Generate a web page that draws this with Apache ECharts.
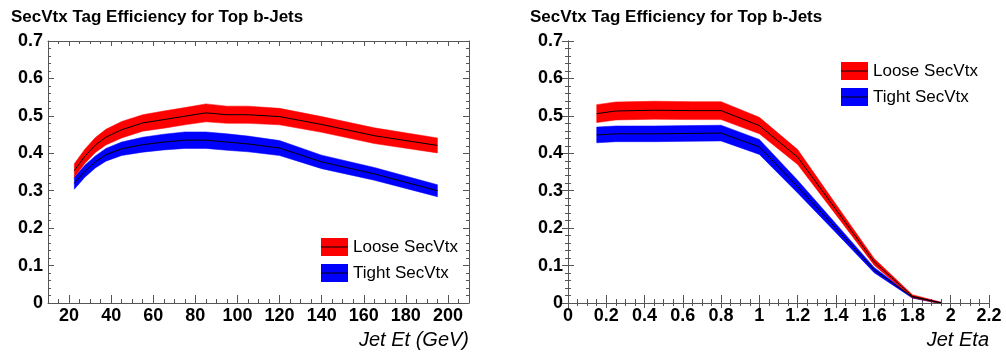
<!DOCTYPE html>
<html>
<head>
<meta charset="utf-8">
<script src="https://cdn.jsdelivr.net/npm/echarts@6/dist/echarts.min.js"></script>
<style>
html,body{margin:0;padding:0;background:#fff;}
#main{width:1006px;height:352px;}
</style>
</head>
<body>
<div id="main"></div>
<script>
// ---- data ----
const etX = [22.5, 27.5, 32.5, 37.5, 45, 55, 65, 75, 85, 95, 105, 120, 140, 165, 195];
const etLoose = [0.354, 0.392, 0.422, 0.443, 0.463, 0.481, 0.490, 0.499, 0.508, 0.503, 0.503, 0.498, 0.477, 0.447, 0.421];
const etLooseErr = [0.018, 0.019, 0.020, 0.021, 0.022, 0.022, 0.023, 0.023, 0.024, 0.023, 0.023, 0.022, 0.021, 0.021, 0.020];
const etTight = [0.320, 0.352, 0.377, 0.396, 0.412, 0.423, 0.430, 0.435, 0.435, 0.430, 0.425, 0.414, 0.377, 0.345, 0.300];
const etTightErr = [0.016, 0.016, 0.016, 0.017, 0.018, 0.020, 0.021, 0.022, 0.022, 0.022, 0.021, 0.020, 0.018, 0.017, 0.016];

const etaX = [0.15, 0.25, 0.45, 0.65, 0.8, 1.0, 1.2, 1.4, 1.6, 1.8, 1.95];
const etaLoose = [0.506, 0.513, 0.515, 0.514, 0.514, 0.474, 0.390, 0.250, 0.110, 0.018, 0.0];
const etaLooseErr = [0.024, 0.024, 0.024, 0.024, 0.024, 0.022, 0.020, 0.014, 0.009, 0.004, 0.002];
const etaTight = [0.449, 0.452, 0.452, 0.453, 0.454, 0.417, 0.311, 0.200, 0.088, 0.016, 0.0];
const etaTightErr = [0.021, 0.021, 0.021, 0.021, 0.021, 0.020, 0.017, 0.012, 0.007, 0.003, 0.002];

const etLabels = [20, 40, 60, 80, 100, 120, 140, 160, 180, 200];
const titleText = 'SecVtx Tag Efficiency for Top b-Jets';
const seriesNames = ['Loose SecVtx', 'Tight SecVtx'];
const colors = ['#ff0000', '#0000ff'];

// ---- build ----
const FONT = 'Liberation Sans, Arial, Helvetica, sans-serif';
const frameColor = '#555555';
const chart = echarts.init(document.getElementById('main'), null, {renderer: 'canvas'});

function bandSeries(xs, vals, errs, name, color, xi, yi) {
  const center = xs.map((x, i) => [x, vals[i]]);
  return [
    {type: 'custom', name: name, xAxisIndex: xi, yAxisIndex: yi, color: color,
     itemStyle: {color: color}, clip: true, silent: true, z: 2,
     data: center, encode: {x: 0, y: 1},
     renderItem: function (params, api) {
       if (params.dataIndex !== 0) return null;
       const pts = [];
       for (let i = 0; i < xs.length; i++) pts.push(api.coord([xs[i], vals[i] + errs[i]]));
       for (let i = xs.length - 1; i >= 0; i--) pts.push(api.coord([xs[i], vals[i] - errs[i]]));
       return {type: 'polygon', shape: {points: pts}, style: {fill: color, stroke: color, lineWidth: 0.5}};
     }},
    {type: 'line', name: name + ' central', xAxisIndex: xi, yAxisIndex: yi,
     data: center, symbol: 'none', lineStyle: {width: 1, color: '#000'}, silent: true, z: 5}
  ];
}

const lblStyle = {fontFamily: FONT, fontWeight: 'bold', fontSize: 18, color: '#000'};
const lineSt = {color: frameColor, width: 1};

function xAxesEt(grid) {
  const base = {gridIndex: grid, type: 'value', min: 10, max: 210, interval: 5, splitLine: {show: false}};
  return [
    Object.assign({}, base, {position: 'bottom', axisLine: {show: true, lineStyle: lineSt},
      axisTick: {show: true, inside: true, length: 4, lineStyle: lineSt},
      axisLabel: Object.assign({show: true, margin: 4, customValues: etLabels}, lblStyle),
      name: 'Jet Et (GeV)', nameLocation: 'end', nameGap: 0,
      nameTextStyle: {fontFamily: FONT, fontStyle: 'italic', fontSize: 20, color: '#000', align: 'right', verticalAlign: 'top', padding: [27, 0, 0, 0]}}),
    Object.assign({}, base, {position: 'bottom', axisLine: {show: false},
      axisTick: {show: true, inside: true, length: 8, lineStyle: lineSt, customValues: etLabels},
      axisLabel: {show: false}}),
    Object.assign({}, base, {position: 'top', axisLine: {show: true, lineStyle: lineSt},
      axisTick: {show: true, inside: true, length: 3, lineStyle: lineSt}, axisLabel: {show: false}}),
    Object.assign({}, base, {position: 'top', axisLine: {show: false},
      axisTick: {show: true, inside: true, length: 5, lineStyle: lineSt, customValues: etLabels},
      axisLabel: {show: false}})
  ];
}
function xAxesEta(grid) {
  const base = {gridIndex: grid, type: 'value', min: 0, max: 2.2, interval: 0.2, splitLine: {show: false}};
  return [
    Object.assign({}, base, {position: 'bottom', axisLine: {show: true, lineStyle: lineSt},
      axisTick: {show: true, inside: true, length: 8, lineStyle: lineSt},
      minorTick: {show: true, splitNumber: 4, length: 4, lineStyle: lineSt},
      axisLabel: Object.assign({show: true, margin: 4, showMinLabel: true, showMaxLabel: true}, lblStyle),
      name: 'Jet Eta', nameLocation: 'end', nameGap: 0,
      nameTextStyle: {fontFamily: FONT, fontStyle: 'italic', fontSize: 20, color: '#000', align: 'right', verticalAlign: 'top', padding: [27, 0, 0, 0]}}),
    Object.assign({}, base, {position: 'top', axisLine: {show: true, lineStyle: lineSt},
      axisTick: {show: true, inside: true, length: 5, lineStyle: lineSt},
      minorTick: {show: true, splitNumber: 4, length: 3, lineStyle: lineSt},
      axisLabel: {show: false}})
  ];
}
function yAxes(grid) {
  const base = {gridIndex: grid, type: 'value', min: 0, max: 0.7, interval: 0.1, splitLine: {show: false}};
  return [
    Object.assign({}, base, {position: 'left', axisLine: {show: true, lineStyle: lineSt},
      axisTick: {show: true, inside: true, length: 6, lineStyle: lineSt},
      minorTick: {show: true, splitNumber: 5, length: 3, lineStyle: lineSt},
      axisLabel: Object.assign({show: true, margin: 5, formatter: v => String(+v.toFixed(1))}, lblStyle)}),
    Object.assign({}, base, {position: 'right', axisLine: {show: true, lineStyle: lineSt},
      axisTick: {show: true, inside: true, length: 6, lineStyle: lineSt},
      minorTick: {show: true, splitNumber: 5, length: 3, lineStyle: lineSt},
      axisLabel: {show: false}})
  ];
}

const xAxis = xAxesEt(0).concat(xAxesEta(1));   // 0..3 left, 4..5 right
const yAxis = yAxes(0).concat(yAxes(1));         // 0..1 left, 2..3 right

const series = []
  .concat(bandSeries(etX, etTight, etTightErr, seriesNames[1], colors[1], 0, 0))
  .concat(bandSeries(etX, etLoose, etLooseErr, seriesNames[0], colors[0], 0, 0))
  .concat(bandSeries(etaX, etaTight, etaTightErr, seriesNames[1], colors[1], 4, 2))
  .concat(bandSeries(etaX, etaLoose, etaLooseErr, seriesNames[0], colors[0], 4, 2));

function legendAt(left, top) {
  return {
    orient: 'vertical', left: left, top: top, padding: 0, itemGap: 8,
    itemWidth: 27, itemHeight: 18, icon: 'rect', selectedMode: false,
    data: seriesNames.map((n, i) => ({name: n, icon: 'rect', itemStyle: {color: colors[i], borderWidth: 0}})),
    textStyle: {fontFamily: FONT, fontSize: 17, color: '#000', lineHeight: 18, padding: [0, 0, 0, 0]}
  };
}
const legPos = [[321, 238], [841, 62]];
const graphics = [];
legPos.forEach(p => {
  [0, 1].forEach(k => {
    const y = p[1] + 9 + k * 26;
    graphics.push({type: 'line', shape: {x1: p[0], y1: y, x2: p[0] + 27, y2: y},
      style: {stroke: '#000', lineWidth: 1}, z: 100});
  });
});

chart.setOption({
  animation: false,
  backgroundColor: '#fff',
  title: [
    {text: titleText, left: 11, top: 9, padding: 0,
     textStyle: {fontFamily: FONT, fontWeight: 'bold', fontSize: 17, color: '#000'}},
    {text: titleText, left: 530, top: 9, padding: 0,
     textStyle: {fontFamily: FONT, fontWeight: 'bold', fontSize: 17, color: '#000'}}
  ],
  grid: [
    {left: 48, top: 41, width: 421, height: 262, containLabel: false},
    {left: 568, top: 41, width: 421, height: 262, containLabel: false}
  ],
  legend: [legendAt(legPos[0][0], legPos[0][1]), legendAt(legPos[1][0], legPos[1][1])],
  xAxis: xAxis,
  yAxis: yAxis,
  series: series,
  graphic: graphics
});
</script>
</body>
</html>
